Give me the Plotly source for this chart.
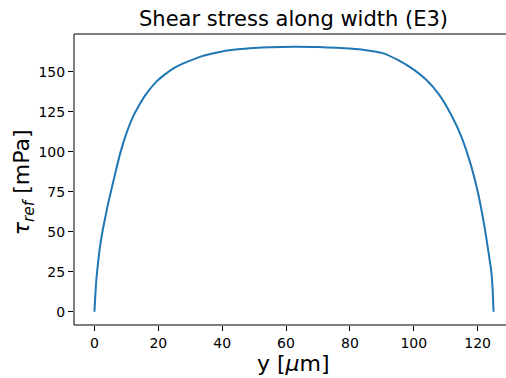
import plotly.graph_objects as go

# Values (width position in µm, shear stress in mPa)
y_um = [0, 0.3, 0.6, 1.0, 1.7, 2.5, 3.2, 4.0, 4.8, 6.4, 8.0, 10.0, 12.0, 14.0, 16.0,
        19.4, 22.0, 25.0, 28.0, 30.0, 33.0, 36.0, 40.0, 45.0, 50.0, 55.0, 62.5,
        70.0, 76.0, 80.0, 85.0, 90.0, 95.0, 100.0, 104.0, 108.0, 112.0, 115.0,
        118.0, 120.0, 122.0, 123.5, 124.3, 124.7, 125.0]
tau_mpa = [0, 11, 20, 28, 40, 50, 57, 65, 72, 85.5, 98.5, 111.5, 121.5, 129, 135.5,
           143.8, 148.2, 152.4, 155.4, 157.0, 159.3, 161.0, 162.7, 164.0, 164.8,
           165.3, 165.6, 165.4, 165.0, 164.5, 163.5, 161.8, 157.4, 151.3, 144.8,
           135.5, 122.0, 109.0, 91.0, 75.5, 55.0, 36.0, 25.0, 14.0, 0]
x_ticks = [0, 20, 40, 60, 80, 100, 120]
y_ticks = [0, 25, 50, 75, 100, 125, 150]

FONT = "DejaVu Sans"
SPINE = dict(color="black", width=1)

fig = go.Figure()
fig.add_trace(go.Scatter(
    x=y_um, y=tau_mpa, mode="lines",
    line=dict(color="#1f77b4", width=2, shape="spline", smoothing=0.6),
    showlegend=False, hoverinfo="skip",
))

axis_common = dict(
    showgrid=False, zeroline=False, showline=False,
    ticks="outside", ticklen=5, tickwidth=1, tickcolor="black",
    tickfont=dict(family=FONT, size=14, color="black"), automargin=False,
)

fig.update_layout(
    width=514, height=378,
    margin=dict(l=74, r=0, t=34, b=53, autoexpand=False),
    paper_bgcolor="white", plot_bgcolor="white",
    font=dict(family=FONT, color="black"),
    xaxis=dict(range=[-6.4, 131.4], tickvals=x_ticks, **axis_common),
    yaxis=dict(range=[-8.3, 173.6], tickvals=y_ticks, **axis_common),
    shapes=[
        dict(type="line", xref="paper", yref="paper", x0=0, x1=1, y0=1, y1=1, line=SPINE),
        dict(type="line", xref="paper", yref="paper", x0=0, x1=1, y0=0, y1=0, line=SPINE),
        dict(type="line", xref="paper", yref="paper", x0=0, x1=0, y0=0, y1=1, line=SPINE),
    ],
    annotations=[
        dict(text="Shear stress along width (E3)", xref="paper", yref="paper",
             x=0.4989, y=1.0, yshift=15, xanchor="center", yanchor="middle",
             showarrow=False, font=dict(family=FONT, size=21, color="black")),
        dict(text="y [<i>μ</i>m]", xref="paper", yref="paper",
             x=0.4989, y=-0.134, xanchor="center", yanchor="middle",
             showarrow=False, font=dict(family=FONT, size=22, color="black")),
        dict(text="<i>τ</i><sub><i>ref</i></sub> [mPa]", xref="paper", yref="paper",
             x=-0.114, y=0.49, xanchor="center", yanchor="middle", textangle=-90,
             showarrow=False, font=dict(family=FONT, size=22, color="black")),
    ],
)

fig.write_html(
    "out.html",
    config={"displayModeBar": False, "responsive": False},
    post_script="document.body.style.margin='0';document.body.style.overflow='hidden';",
)
